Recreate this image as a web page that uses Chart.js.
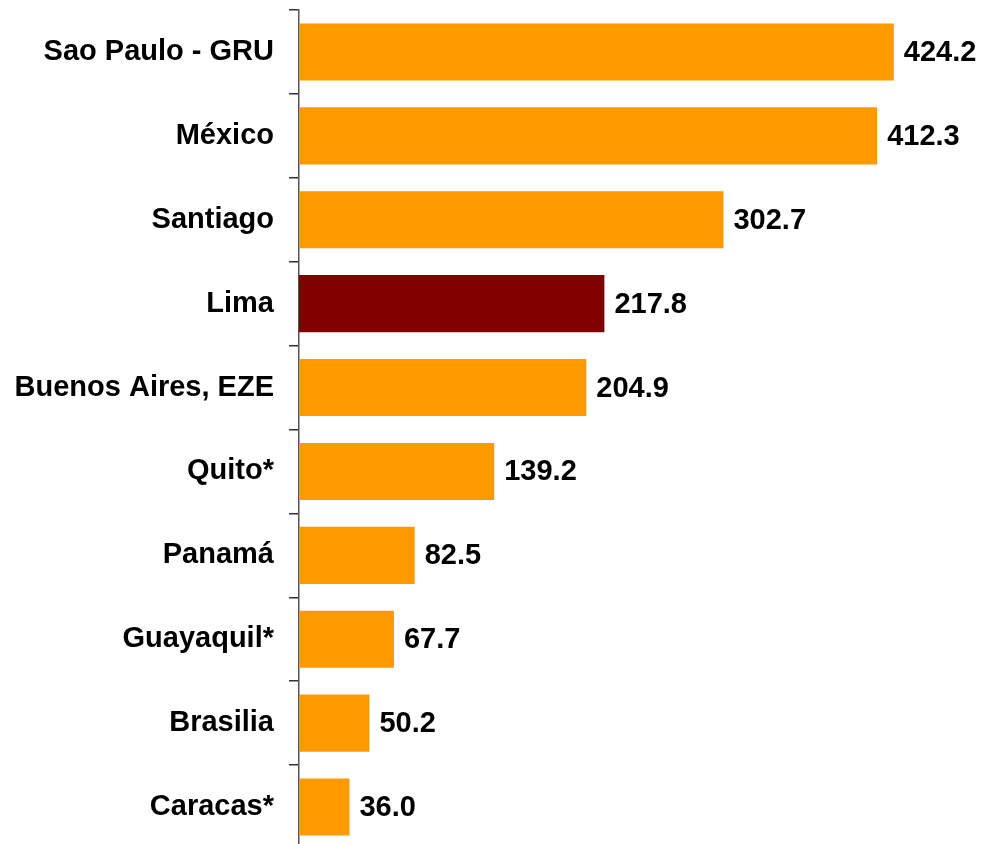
<!DOCTYPE html>
<html>
<head>
<meta charset="utf-8">
<script src="https://cdn.jsdelivr.net/npm/chart.js@4"></script>
<style>
  html, body { margin: 0; padding: 0; background: #fff; overflow: hidden; }
  #wrap { width: 994px; height: 849px; }
</style>
</head>
<body>
<div id="wrap"><canvas id="chart"></canvas></div>
<script>
const cities = ['Sao Paulo - GRU', 'México', 'Santiago', 'Lima', 'Buenos Aires, EZE',
    'Quito*', 'Panamá', 'Guayaquil*', 'Brasilia', 'Caracas*'];
const values = [424.2, 412.3, 302.7, 217.8, 204.9, 139.2, 82.5, 67.7, 50.2, 36.0];
const highlight = 'Lima';

const barColors = cities.map(c => c === highlight ? '#800000' : '#FF9900');
const labelFont = '"Liberation Sans", Arial, sans-serif';

// draw the value next to each bar
const valueLabels = {
    id: 'valueLabels',
    afterDatasetsDraw(chart) {
        const ctx = chart.ctx;
        const meta = chart.getDatasetMeta(0);
        ctx.save();
        ctx.font = 'bold 29px ' + labelFont;
        ctx.fillStyle = '#000';
        ctx.textAlign = 'left';
        ctx.textBaseline = 'middle';
        meta.data.forEach((bar, i) => {
            ctx.fillText(values[i].toFixed(1), bar.x + 10, bar.y + 1);
        });
        ctx.restore();
    }
};

const ctx = document.getElementById('chart').getContext('2d');
new Chart(ctx, {
    type: 'bar',
    data: {
        labels: cities,
        datasets: [{
            data: values,
            backgroundColor: barColors,
            categoryPercentage: 1,
            barPercentage: 0.68
        }]
    },
    options: {
        indexAxis: 'y',
        responsive: true,
        maintainAspectRatio: false,
        animation: false,
        layout: { padding: { top: 10, right: 64, bottom: 0, left: 0 } },
        plugins: {
            legend: { display: false },
            tooltip: { enabled: false }
        },
        scales: {
            x: {
                display: false,
                min: 0,
                max: 450
            },
            y: {
                afterFit(scale) {
                    scale.width = 299;
                    scale.paddingTop = 0;
                    scale.paddingBottom = 0;
                },
                border: { display: true, color: '#555', width: 1.5 },
                grid: {
                    drawOnChartArea: false,
                    drawTicks: true,
                    tickLength: 10,
                    color: '#333',
                    lineWidth: 1.5
                },
                ticks: {
                    color: '#000',
                    padding: 15,
                    font: { family: labelFont, size: 29, weight: 'bold' }
                }
            }
        }
    },
    plugins: [valueLabels]
});
</script>
</body>
</html>
